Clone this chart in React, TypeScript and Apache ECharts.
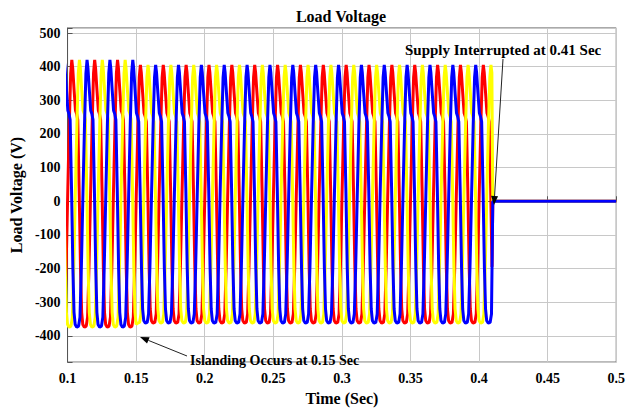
import React, { useEffect, useRef } from "react";
import * as echarts from "echarts";

// Axis ticks
const xTickValues = [0.1, 0.15, 0.2, 0.25, 0.3, 0.35, 0.4, 0.45, 0.5];
const yTickValues = [-400, -300, -200, -100, 0, 100, 200, 300, 400, 500];

// Timing (60 Hz supply, 18 cycles between 0.103 s and 0.403 s)
const period = 1 / 60;
const redFirstPeak = 0.1031; // s
const phaseNames = ["Phase A", "Phase B", "Phase C"];
const phaseColors = ["#ff0000", "#ffff00", "#0000ff"];
const phaseLag = [0, 1 / 3, 2 / 3]; // fraction of a period after the red peak
const islandingTime = 0.15;
const interruptTime = 0.41;
const endTime = 0.5;

// One cycle of the distorted load voltage (phase from peak, volts)
const cyclePhase = [0.0, 0.04, 0.1, 0.16, 0.21, 0.26, 0.32, 0.38, 0.43, 0.48, 0.55, 0.63, 0.69, 0.75, 0.82, 0.89, 0.95];
const cycleVoltsGrid = [420, 395, 330, 270, 260, 242, 40, -200, -330, -366, -374, -371, -345, -200, 20, 230, 380];
const cycleVoltsIsland = [405, 382, 320, 262, 252, 236, 40, -195, -320, -355, -362, -360, -335, -195, 20, 225, 368];

function buildPhase(lag: number): [number, number][] {
  const pts: [number, number][] = [];
  const peak0 = redFirstPeak + lag * period;
  for (let k = -2; k < 30; k++) {
    for (let j = 0; j < cyclePhase.length; j++) {
      const t = peak0 + (k + cyclePhase[j]) * period;
      if (t < 0.1 - period) continue;
      if (t >= interruptTime) continue;
      const v = t < islandingTime ? cycleVoltsGrid[j] : cycleVoltsIsland[j];
      pts.push([t, v]);
    }
  }
  pts.sort((a, b) => a[0] - b[0]);
  pts.push([interruptTime, 0]);
  pts.push([endTime, 0]);
  return pts;
}

const FONT = "'Liberation Serif', 'Times New Roman', serif";

function arrow(x1: number, y1: number, x2: number, y2: number) {
  const dx = x2 - x1;
  const dy = y2 - y1;
  const len = Math.sqrt(dx * dx + dy * dy);
  const ux = dx / len;
  const uy = dy / len;
  const hl = 9;
  const hw = 3.5;
  const bx = x2 - ux * hl;
  const by = y2 - uy * hl;
  return [
    {
      type: "line",
      shape: { x1, y1, x2: bx, y2: by },
      style: { stroke: "#222", lineWidth: 1 },
      z: 100,
    },
    {
      type: "polygon",
      shape: {
        points: [
          [x2, y2],
          [bx - uy * hw, by + ux * hw],
          [bx + uy * hw, by - ux * hw],
        ],
      },
      style: { fill: "#000" },
      z: 100,
    },
  ];
}

export default function App() {
  const ref = useRef<HTMLDivElement>(null);
  useEffect(() => {
    if (!ref.current) return;
    const chart = echarts.init(ref.current, null, { renderer: "svg" });
    const series = phaseNames.map((name, i) => ({
      name,
      type: "line",
      data: buildPhase(phaseLag[i]),
      showSymbol: false,
      symbol: "none",
      lineStyle: { color: phaseColors[i], width: 3 },
      itemStyle: { color: phaseColors[i] },
      z: 2 + i,
    }));
    chart.setOption({
      animation: false,
      backgroundColor: "#ffffff",
      grid: {
        left: 64,
        right: 10,
        top: 28,
        bottom: 38,
        show: true,
        borderColor: "#555",
        borderWidth: 1,
        backgroundColor: "transparent",
      },
      xAxis: {
        type: "value",
        min: xTickValues[0],
        max: xTickValues[xTickValues.length - 1],
        interval: 0.05,
        name: "Time (Sec)",
        nameLocation: "middle",
        nameGap: 26,
        nameTextStyle: { fontFamily: FONT, fontWeight: "bold", fontSize: 16, color: "#000" },
        axisLine: { show: true, lineStyle: { color: "#555" } },
        axisTick: { show: true, inside: true, length: 5, lineStyle: { color: "#555" } },
        splitLine: { show: true, lineStyle: { color: "#c8c8c8", width: 1 } },
        axisLabel: {
          fontFamily: FONT,
          fontWeight: "bold",
          fontSize: 14,
          color: "#000",
          margin: 9,
          formatter: (v: number) => String(parseFloat(v.toFixed(2))),
        },
      },
      yAxis: {
        type: "value",
        min: -478,
        max: 515,
        splitNumber: 10,
        minInterval: 100,
        maxInterval: 100,
        name: "Load Voltage (V)",
        nameLocation: "middle",
        nameGap: 38,
        nameTextStyle: { fontFamily: FONT, fontWeight: "bold", fontSize: 16, color: "#000" },
        axisLine: { show: true, lineStyle: { color: "#555" } },
        axisTick: { show: true, inside: true, length: 5, lineStyle: { color: "#555" } },
        splitLine: { show: true, lineStyle: { color: "#c8c8c8", width: 1 } },
        axisLabel: {
          fontFamily: FONT,
          fontWeight: "bold",
          fontSize: 14,
          color: "#000",
          margin: 7,
          formatter: (v: number) => (yTickValues.indexOf(Math.round(v)) >= 0 && Math.abs(v - Math.round(v)) < 1e-6 ? String(Math.round(v)) : ""),
        },
      },
      series,
      graphic: [
        {
          type: "text",
          x: 341,
          y: 16,
          style: {
            text: "Load Voltage",
            fontFamily: FONT,
            fontWeight: "bold",
            fontSize: 16,
            fill: "#000",
            textAlign: "center",
            textVerticalAlign: "middle",
          },
          z: 100,
        },
        {
          type: "text",
          x: 405,
          y: 50,
          style: {
            text: "Supply Interrupted at 0.41 Sec",
            fontFamily: FONT,
            fontWeight: "bold",
            fontSize: 15,
            fill: "#000",
            textAlign: "left",
            textVerticalAlign: "middle",
          },
          z: 100,
        },
        ...arrow(503, 59, 494, 205),
        {
          type: "text",
          x: 190,
          y: 360,
          style: {
            text: "Islanding Occurs at 0.15 Sec",
            fontFamily: FONT,
            fontWeight: "bold",
            fontSize: 14,
            fill: "#000",
            textAlign: "left",
            textVerticalAlign: "middle",
          },
          z: 100,
        },
        ...arrow(187, 356, 140, 337),
      ],
    });
    return () => chart.dispose();
  }, []);
  return (
    <div
      ref={ref}
      style={{ position: "fixed", left: 0, top: 0, width: 628, height: 411, background: "#fff" }}
    />
  );
}
